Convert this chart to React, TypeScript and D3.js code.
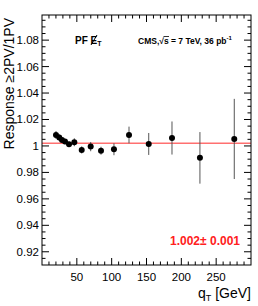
import React from 'react';
import * as d3 from 'd3';

// measured points (qT bin centres, response ratio, stat. error)
const qtValues = [20.1, 24.8, 28.7, 33, 38.8, 46.4, 57, 69.9, 84.7, 103.3, 124.9, 153.2, 186.6, 226.7, 276];
const responseValues = [1.0083, 1.0063, 1.0045, 1.0033, 1.0013, 1.0028, 0.997, 0.9995, 0.9964, 0.9975, 1.0083, 1.0015, 1.006, 0.991, 1.0053];
const responseErrors = [0.003, 0.0025, 0.002, 0.002, 0.002, 0.003, 0.0027, 0.0035, 0.003, 0.0045, 0.0063, 0.0083, 0.0125, 0.0195, 0.0303];
const fitValue = 1.002;
const fitLabel = '1.002\u00b1 0.001';

const xMajorTicks = [50, 100, 150, 200, 250];
const yMajorTicks = [0.92, 0.94, 0.96, 0.98, 1.0, 1.02, 1.04, 1.06, 1.08];

const W = 258;
const H = 306;
const margin = { left: 42, right: 7, top: 15, bottom: 41 };
const FONT = '"Liberation Sans", Arial, Helvetica, sans-serif';

export default function App() {
  const x = d3.scaleLinear().domain([0, 300]).range([margin.left, W - margin.right]);
  const y = d3.scaleLinear().domain([0.91, 1.099]).range([H - margin.bottom, margin.top]);

  const [x0, x1] = x.range();
  const [y0, y1] = y.range(); // y0 bottom, y1 top

  const xMinor = d3.range(10, 300, 10).filter(v => v % 50 !== 0);
  const yMinor = d3.range(0.915, 1.099, 0.005).filter(v => Math.abs(Math.round(v * 100) / 100 - v) > 1e-6 || Math.round(v * 100) % 2 !== 0);

  const points = qtValues.map((q, i) => ({ q, v: responseValues[i], e: responseErrors[i] }));
  const fmtY = (v: number) => String(+v.toFixed(2));

  const majorLen = 7;
  const minorLen = 3.5;

  return (
    <div style={{ position: 'absolute', left: 0, top: 0 }}>
      <svg width={W} height={H} style={{ display: 'block', background: '#fff' }}>
        {/* x ticks bottom + top */}
        {xMajorTicks.map(t => (
          <g key={'xM' + t}>
            <line x1={x(t)} x2={x(t)} y1={y0} y2={y0 - majorLen} stroke="#000" />
            <line x1={x(t)} x2={x(t)} y1={y1} y2={y1 + majorLen} stroke="#000" />
            <text x={x(t)} y={281} textAnchor="middle" fontFamily={FONT} fontSize={11.5} fill="#000">{t}</text>
          </g>
        ))}
        {xMinor.map(t => (
          <g key={'xm' + t}>
            <line x1={x(t)} x2={x(t)} y1={y0} y2={y0 - minorLen} stroke="#000" />
            <line x1={x(t)} x2={x(t)} y1={y1} y2={y1 + minorLen} stroke="#000" />
          </g>
        ))}

        {/* y ticks left + right */}
        {yMajorTicks.map(t => (
          <g key={'yM' + t}>
            <line x1={x0} x2={x0 + majorLen} y1={y(t)} y2={y(t)} stroke="#000" />
            <line x1={x1} x2={x1 - majorLen} y1={y(t)} y2={y(t)} stroke="#000" />
            <text x={x0 - 3} y={y(t) + 4} textAnchor="end" fontFamily={FONT} fontSize={11.5} fill="#000">{fmtY(t)}</text>
          </g>
        ))}
        {yMinor.map(t => (
          <g key={'ym' + t}>
            <line x1={x0} x2={x0 + minorLen} y1={y(t)} y2={y(t)} stroke="#000" />
            <line x1={x1} x2={x1 - minorLen} y1={y(t)} y2={y(t)} stroke="#000" />
          </g>
        ))}

        {/* fit line */}
        <line x1={x0} x2={x1} y1={y(fitValue)} y2={y(fitValue)} stroke="#ff7070" strokeWidth={1.5} />

        {/* error bars and markers */}
        {points.map((p, i) => (
          <g key={'p' + i}>
            <line x1={x(p.q)} x2={x(p.q)} y1={y(p.v - p.e)} y2={y(p.v + p.e)} stroke="#555" strokeWidth={1} />
            <circle cx={x(p.q)} cy={y(p.v)} r={3} fill="#000" />
          </g>
        ))}

        {/* frame */}
        <rect x={x0} y={y1} width={x1 - x0} height={y0 - y1} fill="none" stroke="#000" strokeWidth={1} />

        {/* labels */}
        <text transform="translate(14,18) rotate(-90)" textAnchor="end" fontFamily={FONT} fontSize={14} fill="#000">
          Response {'\u2265'}2PV/1PV
        </text>
        <text x={x1} y={298} textAnchor="end" fontFamily={FONT} fontSize={14} fill="#000">
          q<tspan fontSize={9} dy={3}>T</tspan><tspan dy={-3}> [GeV]</tspan>
        </text>

        <text x={75} y={44} fontFamily={FONT} fontSize={10} fontWeight="bold" fill="#000">
          PF E<tspan fontSize={7} dy={2}>T</tspan>
        </text>
        <line x1={91} x2={97} y1={45} y2={35} stroke="#000" strokeWidth={1} />

        <text x={138} y={44} fontFamily={FONT} fontSize={8.5} fontWeight="bold" fill="#000">
          CMS,{'\u221a'}s = 7 TeV, 36 pb<tspan fontSize={6} dy={-4}>-1</tspan>
        </text>
        <line x1={163.5} x2={169} y1={36.5} y2={36.5} stroke="#000" strokeWidth={0.8} />

        <text x={240} y={245} textAnchor="end" fontFamily={FONT} fontSize={12} fontWeight="bold" fill="#ff2020">
          {fitLabel}
        </text>
      </svg>
    </div>
  );
}
